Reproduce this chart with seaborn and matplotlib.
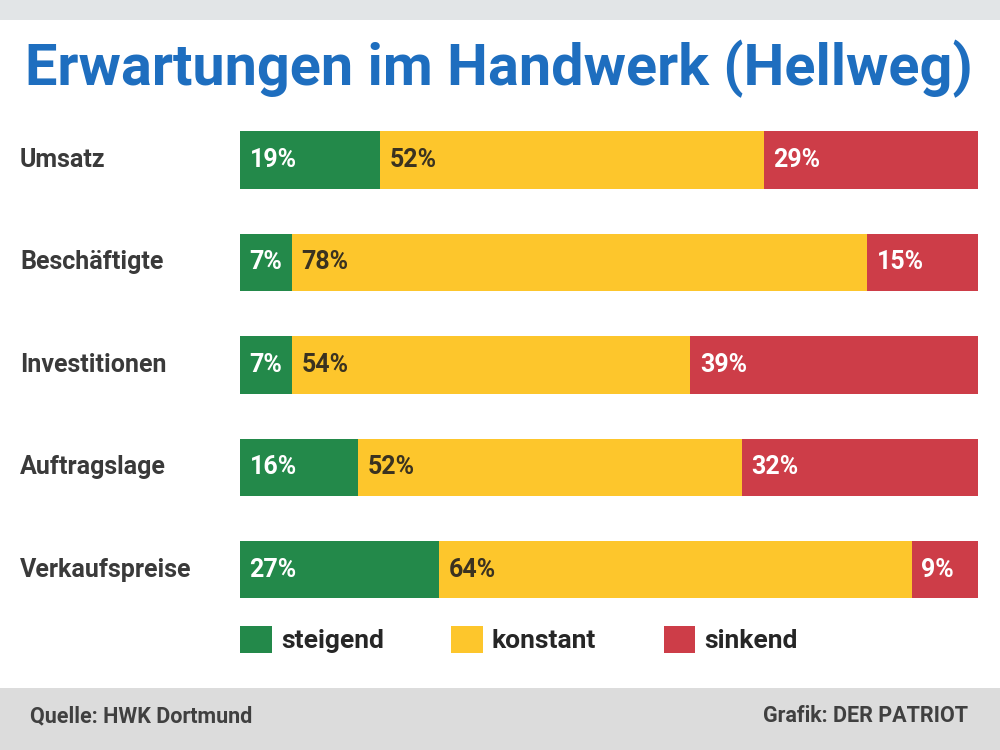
import numpy as np
import pandas as pd
import matplotlib
matplotlib.use("Agg")
import matplotlib.pyplot as plt
import seaborn as sns
from matplotlib.patches import Patch, Rectangle
from matplotlib.transforms import blended_transform_factory

# ==============================
# DATOS
# ==============================

kategorien = ["Umsatz", "Beschäftigte", "Investitionen", "Auftragslage", "Verkaufspreise"]
steigend = [19, 7, 7, 16, 27]
konstant = [52, 78, 54, 52, 64]
sinkend = [29, 15, 39, 32, 9]
serien = ["steigend", "konstant", "sinkend"]

GRUEN = "#23894a"
GELB = "#fdc62c"
ROT = "#cd3d48"
BLAU = "#1e6ebf"

sns.set_theme(style="white")
plt.rcParams["font.family"] = ["Roboto", "DejaVu Sans"]

df = pd.DataFrame({"kategorie": kategorien, "steigend": steigend,
                   "konstant": konstant, "sinkend": sinkend})
df["cum1"] = df["steigend"]
df["cum2"] = df["steigend"] + df["konstant"]
df["cum3"] = df["cum2"] + df["sinkend"]

fig = plt.figure(figsize=(10, 7.5), dpi=100)
ax = fig.add_axes([0.24, 0.172, 0.738, 0.683])

# gestapelte Balken: von hinten nach vorne zeichnen
for spalte, farbe in (("cum3", ROT), ("cum2", GELB), ("cum1", GRUEN)):
    sns.barplot(data=df, y="kategorie", x=spalte, color=farbe, width=0.56,
                saturation=1, ax=ax, orient="h", linewidth=0)

ax.set_xlim(0, 100)
ax.set_xlabel("")
ax.set_ylabel("")
ax.set_xticks([])
ax.set_yticks([])
for s in ax.spines.values():
    s.set_visible(False)

# Werte in den Balken
wert_kw = dict(va="center", ha="left", fontsize=18, fontweight="bold")
for i, row in df.iterrows():
    ax.text(1.3, i, f"{row['steigend']}%", color="white", **wert_kw)
    ax.text(row["cum1"] + 1.3, i, f"{row['konstant']}%", color="#3a3220", **wert_kw)
    ax.text(row["cum2"] + 1.3, i, f"{row['sinkend']}%", color="white", **wert_kw)

# Kategorienamen links
trans = blended_transform_factory(fig.transFigure, ax.transData)
for i, k in enumerate(kategorien):
    ax.text(0.02, i, k, transform=trans, ha="left", va="center",
            fontsize=18, fontweight="bold", color="#3a3a3a")

# Legende
handles = [Patch(facecolor=c, edgecolor="none") for c in (GRUEN, GELB, ROT)]
fig.legend(handles, serien, loc="center left", bbox_to_anchor=(0.24, 0.147),
           ncol=3, frameon=False, handlelength=1.2, borderpad=0,
           borderaxespad=0, handleheight=1.2, handletextpad=0.35,
           columnspacing=2.55, prop={"weight": "bold", "size": 19})

# Titel
fig.text(0.025, 0.908, "Erwartungen im Handwerk (Hellweg)", color=BLAU,
         fontsize=41.5, fontweight="bold", ha="left", va="center")

# Kopf- und Fußband
fig.patches.append(Rectangle((0, 0.973), 1, 0.027, transform=fig.transFigure,
                             facecolor="#e2e5e7", edgecolor="none"))
fig.patches.append(Rectangle((0, 0.0), 1, 0.083, transform=fig.transFigure,
                             facecolor="#dcdcdc", edgecolor="none"))
fig.text(0.03, 0.045, "Quelle: HWK Dortmund", fontsize=15.5, fontweight="bold",
         color="#404040", ha="left", va="center")
fig.text(0.968, 0.045, "Grafik: DER PATRIOT", fontsize=15.5, fontweight="bold",
         color="#404040", ha="right", va="center")

fig.savefig("out.png", dpi=100, facecolor="white")
